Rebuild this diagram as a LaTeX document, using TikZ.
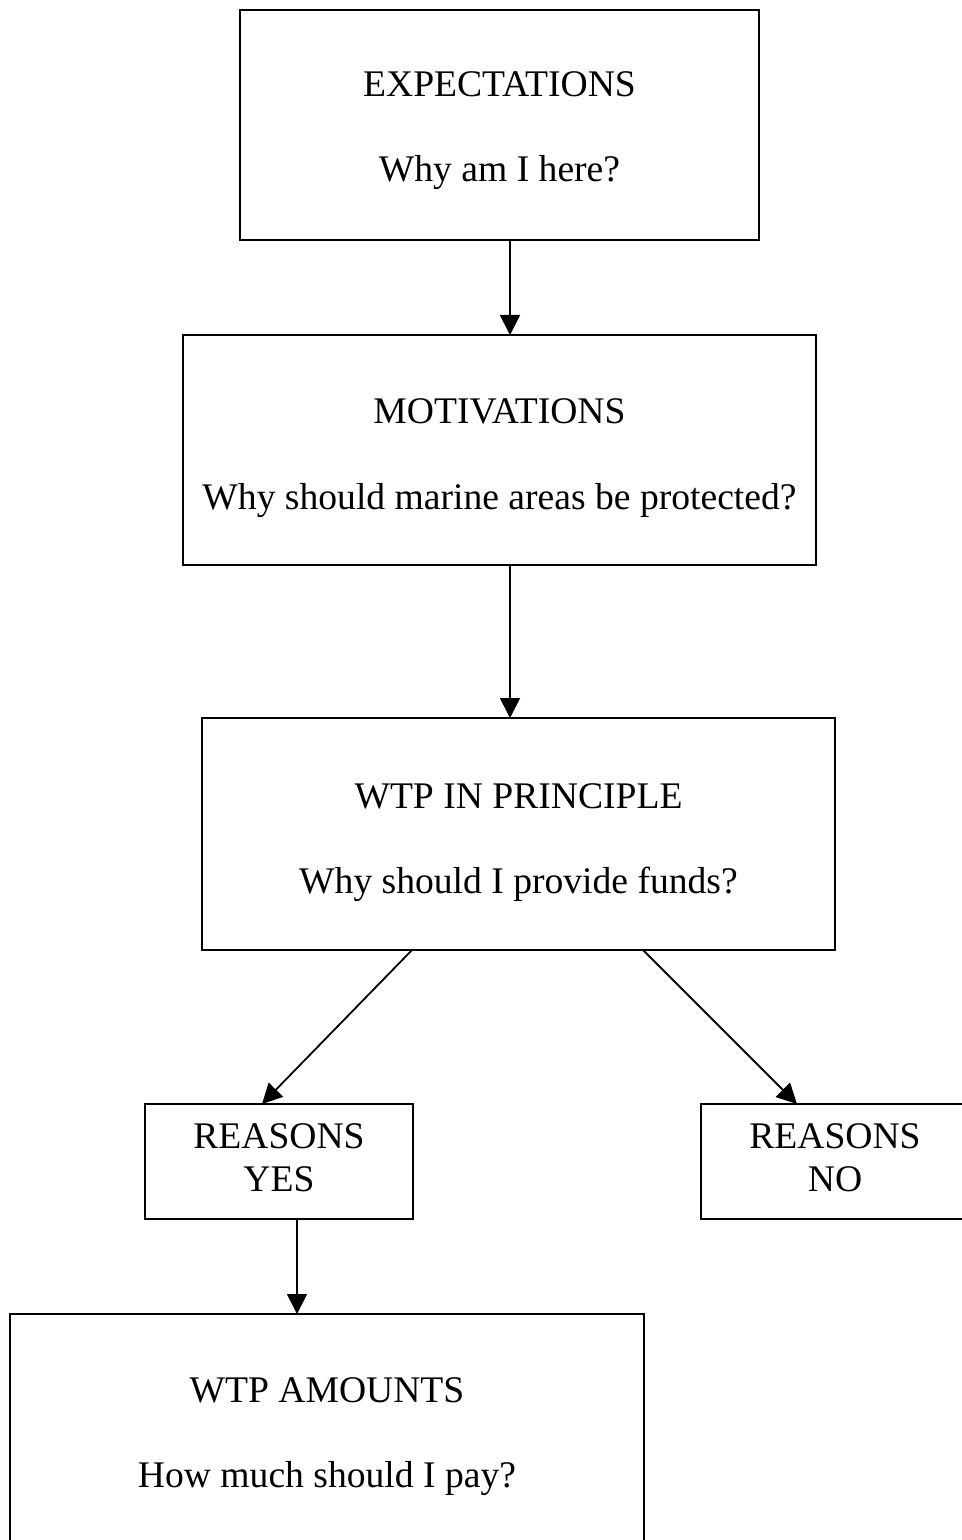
\documentclass[tikz,border=0pt]{standalone}
\usepackage{fontspec}
\setmainfont{Liberation Serif}
\usetikzlibrary{arrows.meta}
\begin{document}
\begin{tikzpicture}[x=0.5pt,y=-0.5pt,
  box/.style={draw=black, line width=1.1pt, rectangle, inner sep=0pt, outer sep=0pt},
  lbl/.style={anchor=base, inner sep=0pt, font=\fontsize{18.8pt}{22pt}\selectfont},
  arr/.style={draw=black, line width=0.9pt, -{Triangle[length=10pt,width=10pt]}}]
\useasboundingbox (0,0) rectangle (962,1540);
\clip (0,0) rectangle (962,1540);
\fill[white] (0,0) rectangle (962,1540);
% boxes
\node[box, minimum width=259.5pt, minimum height=115pt] (EXP) at (499.5,125) {};
\node[box, minimum width=316.5pt, minimum height=115pt] (MOT) at (499.5,450) {};
\node[box, minimum width=316.5pt, minimum height=116pt] (WTP) at (518.5,834) {};
\node[box, minimum width=134pt, minimum height=57.5pt] (YES) at (279,1161.5) {};
\node[box, minimum width=134pt, minimum height=57.5pt] (NO) at (835,1161.5) {};
\node[box, minimum width=317pt, minimum height=115pt] (AMT) at (327,1429) {};
% texts
\node[lbl] (t1a) at (499.5,97) {EXPECTATIONS};
\node[lbl] (t1b) at (499.5,182) {Why am I here?};
\node[lbl] (t2a) at (499.5,423) {MOTIVATIONS};
\node[lbl] (t2b) at (499.5,509) {Why should marine areas be protected?};
\node[lbl] (t3a) at (518.5,808) {WTP IN PRINCIPLE};
\node[lbl] (t3b) at (518.5,893) {Why should I provide funds?};
\node[lbl] (t4a) at (279,1148) {REASONS};
\node[lbl] (t4b) at (279,1191) {YES};
\node[lbl] (t5a) at (835,1148) {REASONS};
\node[lbl] (t5b) at (835,1191) {NO};
\node[lbl] (t6a) at (327,1402) {WTP AMOUNTS};
\node[lbl] (t6b) at (327,1487) {How much should I pay?};
% connectors
\draw[arr] ([xshift=5.25pt]EXP.south) -- ([xshift=5.25pt]EXP.south |- MOT.north);
\draw[arr] ([xshift=5.25pt]MOT.south) -- ([xshift=5.25pt]MOT.south |- WTP.north);
\draw[arr] ([xshift=-53.25pt]WTP.south) -- ([xshift=-8.5pt]YES.north);
\draw[arr] ([xshift=62.25pt]WTP.south) -- ([xshift=-19pt]NO.north);
\draw[arr] ([xshift=9pt]YES.south) -- ([xshift=9pt]YES.south |- AMT.north);
\end{tikzpicture}
\end{document}
